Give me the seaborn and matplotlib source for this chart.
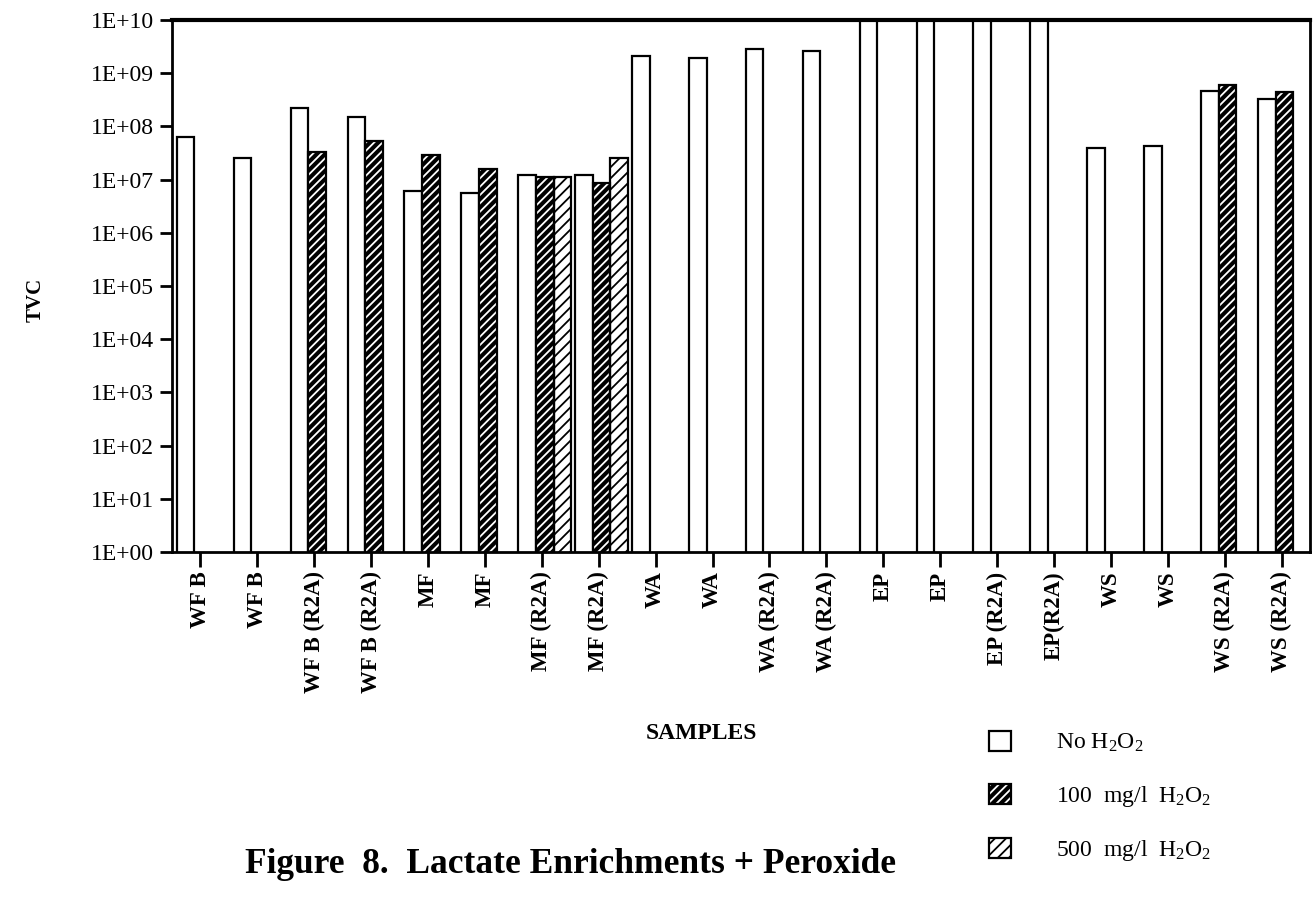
import numpy as np
import pandas as pd
import matplotlib
matplotlib.use("Agg")
import matplotlib.pyplot as plt
from matplotlib.patches import Rectangle
from matplotlib.legend_handler import HandlerTuple
from matplotlib.ticker import NullLocator
import seaborn as sns

# Sample names along the x axis (duplicates are replicate samples)
samples = ["WF B", "WF B", "WF B (R2A)", "WF B (R2A)", "MF", "MF",
           "MF (R2A)", "MF (R2A)", "WA", "WA", "WA (R2A)", "WA (R2A)",
           "EP", "EP", "EP (R2A)", "EP(R2A)", "WS", "WS", "WS (R2A)", "WS (R2A)"]

treatments = ["No H$_2$O$_2$", "100  mg/l  H$_2$O$_2$", "500  mg/l  H$_2$O$_2$"]

nan = np.nan
# TVC values (nan = no bar)
no_h2o2 = [6.3e7, 2.5e7, 2.2e8, 1.5e8, 6.2e6, 5.5e6, 1.2e7, 1.2e7,
           2.1e9, 1.9e9, 2.9e9, 2.6e9, 1e10, 1e10, 1e10, 1e10,
           3.9e7, 4.3e7, 4.7e8, 3.3e8]
h2o2_100 = [nan, nan, 3.3e7, 5.4e7, 2.9e7, 1.6e7, 1.1e7, 8.7e6,
            nan, nan, nan, nan, nan, nan, nan, nan,
            nan, nan, 5.9e8, 4.4e8]
h2o2_500 = [nan, nan, nan, nan, nan, nan, 1.1e7, 2.5e7,
            nan, nan, nan, nan, nan, nan, nan, nan,
            nan, nan, nan, nan]

sns.set_style("ticks")
plt.rcParams["font.family"] = ["Liberation Serif", "DejaVu Serif"]
plt.rcParams["mathtext.fontset"] = "custom"
plt.rcParams["mathtext.rm"] = "Liberation Serif"
plt.rcParams["mathtext.it"] = "Liberation Serif:italic"
plt.rcParams["mathtext.bf"] = "Liberation Serif:bold"
plt.rcParams["hatch.linewidth"] = 1.3
for key in ["text.color", "axes.labelcolor", "xtick.color", "ytick.color"]:
    plt.rcParams[key] = "black"

df = pd.DataFrame({
    "pos": np.tile(np.arange(len(samples)), 3),
    "treatment": np.repeat(treatments, len(samples)),
    "tvc": no_h2o2 + h2o2_100 + h2o2_500,
}).dropna()

fig = plt.figure(figsize=(13.15, 8.98), dpi=100)
ax = fig.add_axes([0.1308, 0.3853, 0.8654, 0.5924])

sns.barplot(data=df, x="pos", y="tvc", hue="treatment", hue_order=treatments,
            order=list(range(len(samples))), palette=["white", "black", "white"],
            saturation=1, width=0.93, errorbar=None,
            edgecolor="black", linewidth=1.6, legend=False, ax=ax)
ax.set_yscale("log")

# hatching and a small shift of the bar group to the right
hatches = [None, "////", "///"]
for i, cont in enumerate(ax.containers):
    for bar in cont:
        bar.set_x(bar.get_x() + 0.05)
        if hatches[i]:
            bar.set_hatch(hatches[i])
        if i == 1:
            # white hatch on black: hatch follows edge colour, so redraw a black outline
            bar.set_edgecolor("white")
            bar.set_linewidth(0)
            ax.add_patch(Rectangle(bar.get_xy(), bar.get_width(), bar.get_height(),
                                   fill=False, edgecolor="black", linewidth=1.6,
                                   zorder=bar.get_zorder() + 0.1))

ax.set_ylim(1, 1e10)
ax.set_xlim(-0.5, len(samples) - 0.5)
ax.set_yticks([10.0 ** i for i in range(11)])
ax.set_yticklabels([f"1E+{i:02d}" for i in range(11)], fontsize=17)
ax.yaxis.set_minor_locator(NullLocator())
ax.set_xticks(range(len(samples)))
ax.set_xticklabels(samples, rotation=90, fontsize=16.5, fontweight="bold")
ax.tick_params(axis="y", direction="out", length=9, width=2, pad=4)
ax.tick_params(axis="x", direction="out", length=11, width=2, pad=3)

for side in ["left", "right", "bottom"]:
    ax.spines[side].set_linewidth(2)
    ax.spines[side].set_color("black")
ax.spines["top"].set_linewidth(3)
ax.spines["top"].set_color("black")

ax.set_xlabel("SAMPLES", fontsize=17, fontweight="bold")
ax.xaxis.set_label_coords(0.465, -0.322)
ax.set_ylabel("TVC", fontsize=15, fontweight="bold")
ax.yaxis.set_label_coords(-0.111, 0.474)

legend_outline = Rectangle((0, 0), 1, 1, fill=False, edgecolor="black", linewidth=1.6)
handles = [ax.containers[0].patches[0], (ax.containers[1].patches[0], legend_outline),
           ax.containers[2].patches[0]]
fig.legend(handles, treatments, loc="upper left", bbox_to_anchor=(0.745, 0.197),
           frameon=False, fontsize=17, handlelength=0.93, handleheight=0.93,
           handletextpad=1.9, labelspacing=1.25, borderaxespad=0,
           handler_map={tuple: HandlerTuple(ndivide=1, pad=0)})

fig.text(0.4335, 0.037, "Figure  8.  Lactate Enrichments + Peroxide",
         ha="center", va="center", fontsize=25.5, fontweight="bold")

fig.savefig("out.png", dpi=100)
